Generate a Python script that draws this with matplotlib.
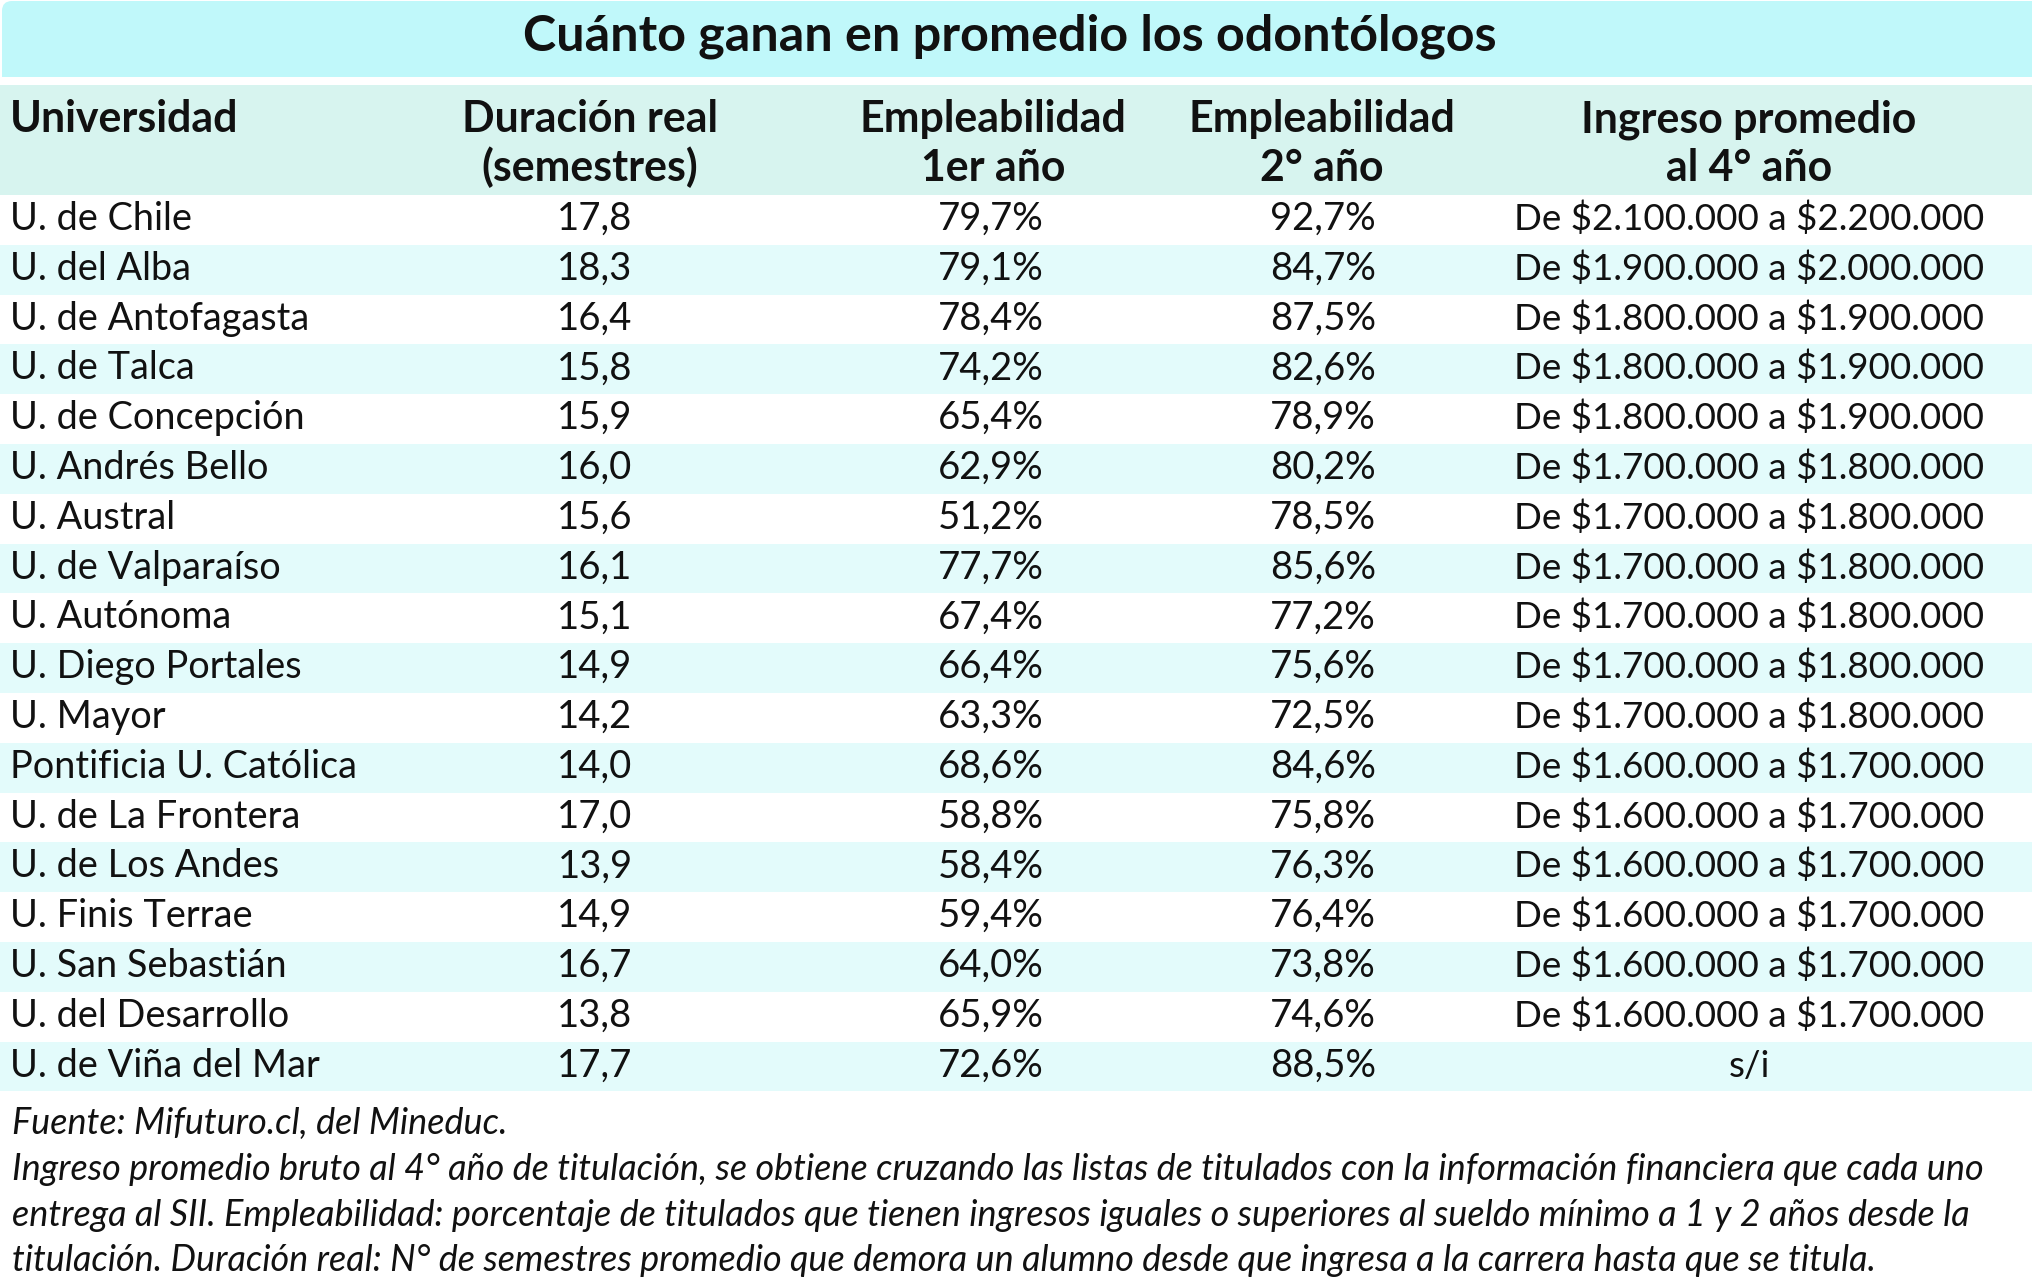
import matplotlib
matplotlib.use("Agg")
import matplotlib.pyplot as plt
from matplotlib.patches import Rectangle, FancyBboxPatch

# ---------------- data ----------------
title = "Cuánto ganan en promedio los odontólogos"
headers = [["Universidad", ""], ["Duración real", "(semestres)"],
           ["Empleabilidad", "1er año"], ["Empleabilidad", "2° año"],
           ["Ingreso promedio", "al 4° año"]]
universidades = ["U. de Chile", "U. del Alba", "U. de Antofagasta", "U. de Talca",
                 "U. de Concepción", "U. Andrés Bello", "U. Austral", "U. de Valparaíso",
                 "U. Autónoma", "U. Diego Portales", "U. Mayor", "Pontificia U. Católica",
                 "U. de La Frontera", "U. de Los Andes", "U. Finis Terrae",
                 "U. San Sebastián", "U. del Desarrollo", "U. de Viña del Mar"]
duracion = [17.8, 18.3, 16.4, 15.8, 15.9, 16.0, 15.6, 16.1, 15.1, 14.9, 14.2, 14.0,
            17.0, 13.9, 14.9, 16.7, 13.8, 17.7]
empleab_1 = [79.7, 79.1, 78.4, 74.2, 65.4, 62.9, 51.2, 77.7, 67.4, 66.4, 63.3, 68.6,
             58.8, 58.4, 59.4, 64.0, 65.9, 72.6]
empleab_2 = [92.7, 84.7, 87.5, 82.6, 78.9, 80.2, 78.5, 85.6, 77.2, 75.6, 72.5, 84.6,
             75.8, 76.3, 76.4, 73.8, 74.6, 88.5]
ingreso_min = [2100000, 1900000, 1800000, 1800000, 1800000, 1700000, 1700000, 1700000,
               1700000, 1700000, 1700000, 1600000, 1600000, 1600000, 1600000, 1600000,
               1600000, None]
ingreso_max = [2200000, 2000000, 1900000, 1900000, 1900000, 1800000, 1800000, 1800000,
               1800000, 1800000, 1800000, 1700000, 1700000, 1700000, 1700000, 1700000,
               1700000, None]
notas = ["Fuente: Mifuturo.cl, del Mineduc.",
         "Ingreso promedio bruto al 4° año de titulación, se obtiene cruzando las listas de titulados con la información financiera que cada uno",
         "entrega al SII. Empleabilidad: porcentaje de titulados que tienen ingresos iguales o superiores al sueldo mínimo a 1 y 2 años desde la",
         "titulación. Duración real: N° de semestres promedio que demora un alumno desde que ingresa a la carrera hasta que se titula."]

# ---------------- helpers ----------------
def dec(v):
    return f"{v:.1f}".replace(".", ",")

def pct(v):
    return dec(v) + "%"

def money(v):
    return "$" + f"{v:,}".replace(",", ".")

def ingreso(lo, hi):
    if lo is None:
        return "s/i"
    return f"De {money(lo)} a {money(hi)}"

# ---------------- figure ----------------
W, H = 2032, 1288
fig = plt.figure(figsize=(W / 100, H / 100), dpi=100)
ax = fig.add_axes([0, 0, 1, 1])
ax.set_xlim(0, W)
ax.set_ylim(H, 0)
ax.axis("off")
renderer = fig.canvas.get_renderer()

FONT = "Lato"

def txt(x, y, s, **kw):
    return ax.text(x, y, s, family=FONT, parse_math=False, va="baseline",
                   color="#111111", **kw)

def fit_size(text, target_w, **kw):
    t = ax.text(0, 0, text, fontsize=20, family=FONT, parse_math=False, **kw)
    w = t.get_window_extent(renderer).width
    t.remove()
    return 20 * target_w / w

C_TITLE = "#c0f8fa"
C_HEAD = "#d7f4ef"
C_ALT = "#e3fbfb"

# title band
ax.add_patch(FancyBboxPatch((2, 1), W - 2, 76, boxstyle="round,pad=0,rounding_size=10",
                            fc=C_TITLE, ec="none"))
ax.add_patch(Rectangle((2, 30), W, 47, fc=C_TITLE, ec="none"))
ax.add_patch(Rectangle((W - 20, 1), 20, 40, fc=C_TITLE, ec="none"))
fs_title = fit_size(title, 973, fontweight="bold")
txt(1010, 50, title, ha="center", fontweight="bold", fontsize=fs_title)

# header band
ax.add_patch(Rectangle((0, 85), W, 110, fc=C_HEAD, ec="none"))
fs_head = fit_size("Empleabilidad", 268, fontweight="bold")
col_x = [10, 590, 993, 1322, 1749]
for i, (l1, l2) in enumerate(headers):
    ha = "left" if i == 0 else "center"
    txt(col_x[i], 132, l1, ha=ha, fontweight="bold", fontsize=fs_head)
    if l2:
        txt(col_x[i], 181, l2, ha=ha, fontweight="bold", fontsize=fs_head)

# rows
fs_name = fit_size("Pontificia U. Católica", 347)
fs_num = fit_size("79,7%", 106)
fs_inc = fit_size("De $2.100.000 a $2.200.000", 470)
col_fs = [fs_name, fs_num, fs_num, fs_num, fs_inc]
row_h = 49.8
top0 = 195
data_x = [10, 595, 991, 1323, 1749]
for r, name in enumerate(universidades):
    top = top0 + r * row_h
    if r % 2 == 1:
        ax.add_patch(Rectangle((0, top), W, row_h, fc=C_ALT, ec="none"))
    base = top + 35
    vals = [name, dec(duracion[r]), pct(empleab_1[r]), pct(empleab_2[r]),
            ingreso(ingreso_min[r], ingreso_max[r])]
    for c, v in enumerate(vals):
        ha = "left" if c == 0 else "center"
        txt(data_x[c], base, v, ha=ha, fontsize=col_fs[c])

# notes
fs_note = fit_size(notas[1], 1968, fontstyle="italic")
note_y = [1134, 1180, 1226, 1271]
for y, line in zip(note_y, notas):
    txt(12, y, line, ha="left", fontstyle="italic", fontsize=fs_note)

fig.savefig("out.png", dpi=100, facecolor="white")
